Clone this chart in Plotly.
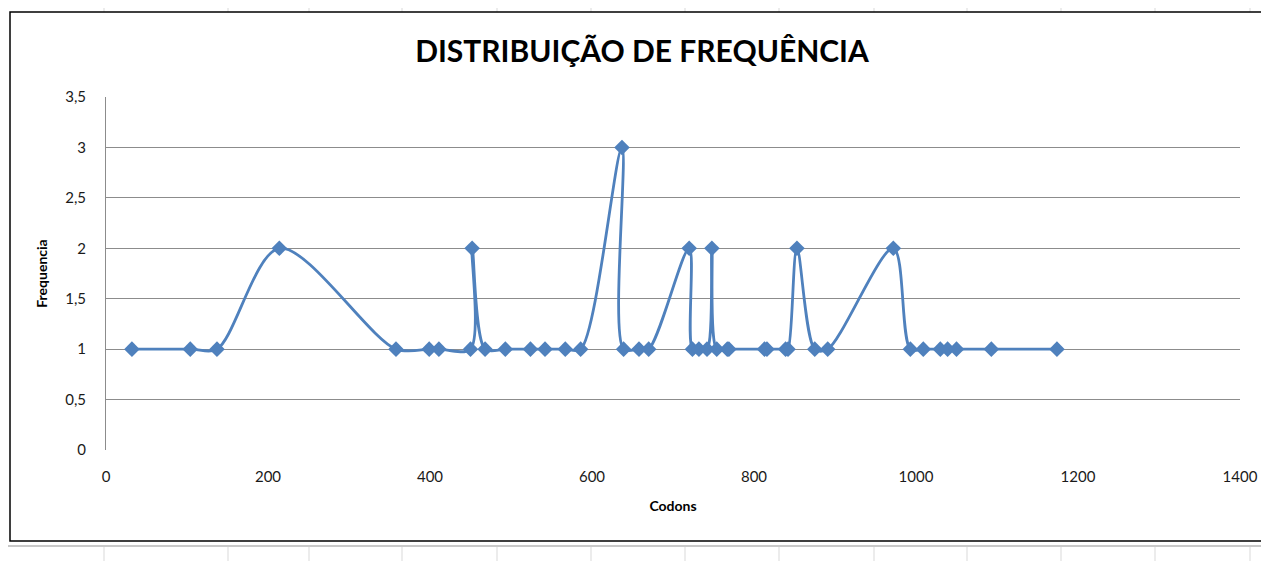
import plotly.graph_objects as go

# Data
codons = [32, 104, 137, 214, 358, 399, 411, 450, 452, 468, 493, 524, 542, 567, 586,
          637, 639, 658, 670, 720, 724, 732, 742, 748, 754, 767, 769, 813, 816, 839, 842,
          853, 875, 891, 972, 993, 1009, 1030, 1039, 1050, 1093, 1174]
frequencia = [1, 1, 1, 2, 1, 1, 1, 1, 2, 1, 1, 1, 1, 1, 1,
              3, 1, 1, 1, 2, 1, 1, 1, 2, 1, 1, 1, 1, 1, 1, 1,
              2, 1, 1, 2, 1, 1, 1, 1, 1, 1, 1]

y_tickvals = [0, 0.5, 1, 1.5, 2, 2.5, 3, 3.5]
y_ticktext = ["0", "0,5", "1", "1,5", "2", "2,5", "3", "3,5"]
x_tickvals = [0, 200, 400, 600, 800, 1000, 1200, 1400]
x_ticktext = ["0", "200", "400", "600", "800", "1000", "1200", "1400"]

OFF = 8  # page body margin offset
W, H = 1269, 561
L, R, T, B = 106 - OFF, 1240 - OFF, 97 - OFF, 450 - OFF


def px(x):
    return (x - OFF - L) / (R - L)


def py(y):
    return (B - (y - OFF)) / (B - T)


fig = go.Figure()
fig.add_trace(go.Scatter(
    x=codons, y=frequencia, mode="lines+markers",
    line=dict(color="#4F81BD", width=2.8, shape="spline", smoothing=0.9),
    marker=dict(symbol="diamond", size=12, color="#4F81BD"),
    showlegend=False, cliponaxis=False,
))

shapes = []
# spreadsheet background cell lines
cell_x = [104, 228, 309, 402, 497, 591, 685, 779, 874, 967, 1061, 1155, 1250]
for cx in cell_x:
    shapes.append(dict(type="line", xref="paper", yref="paper",
                       x0=px(cx), x1=px(cx), y0=py(0), y1=py(12),
                       line=dict(color="#D9D9D9", width=1), layer="below"))
    shapes.append(dict(type="line", xref="paper", yref="paper",
                       x0=px(cx), x1=px(cx), y0=py(546), y1=py(561),
                       line=dict(color="#D9D9D9", width=1), layer="below"))
shapes.append(dict(type="line", xref="paper", yref="paper",
                   x0=px(0), x1=px(W), y0=py(546), y1=py(546),
                   line=dict(color="#C8C8C8", width=2), layer="below"))
# chart frame
shapes.append(dict(type="rect", xref="paper", yref="paper",
                   x0=px(10), x1=px(1290), y0=py(12), y1=py(541),
                   line=dict(color="#000000", width=1.5), layer="below"))

fig.update_layout(
    width=W, height=H,
    margin=dict(l=L, r=W - R, t=T, b=H - B, autoexpand=False),
    paper_bgcolor="white", plot_bgcolor="white",
    title=dict(text="<b>DISTRIBUIÇÃO DE FREQUÊNCIA</b>", xref="container", yref="container",
               x=(642 - OFF) / W, y=1 - (51 - OFF) / H, xanchor="center", yanchor="middle",
               font=dict(family="Lato", size=30, color="#000000")),
    font=dict(family="Lato", size=15, color="#1A1A1A"),
    xaxis=dict(range=[0, 1400], tickvals=x_tickvals, ticktext=x_ticktext,
               showgrid=False, zeroline=False, showline=False, ticks="",
               ticklabelstandoff=16,
               title=dict(text="<b>Codons</b>", font=dict(size=14, color="#000000"), standoff=17)),
    yaxis=dict(range=[0, 3.5], tickvals=y_tickvals, ticktext=y_ticktext,
               showgrid=True, gridcolor="#8C8C8C", gridwidth=1, zeroline=False,
               showline=True, linecolor="#8C8C8C", linewidth=1, ticks="",
               ticklabelstandoff=16,
               title=dict(text="<b>Frequencia</b>", font=dict(size=14, color="#000000"), standoff=14)),
    shapes=shapes,
)

fig.write_html("out.html")
